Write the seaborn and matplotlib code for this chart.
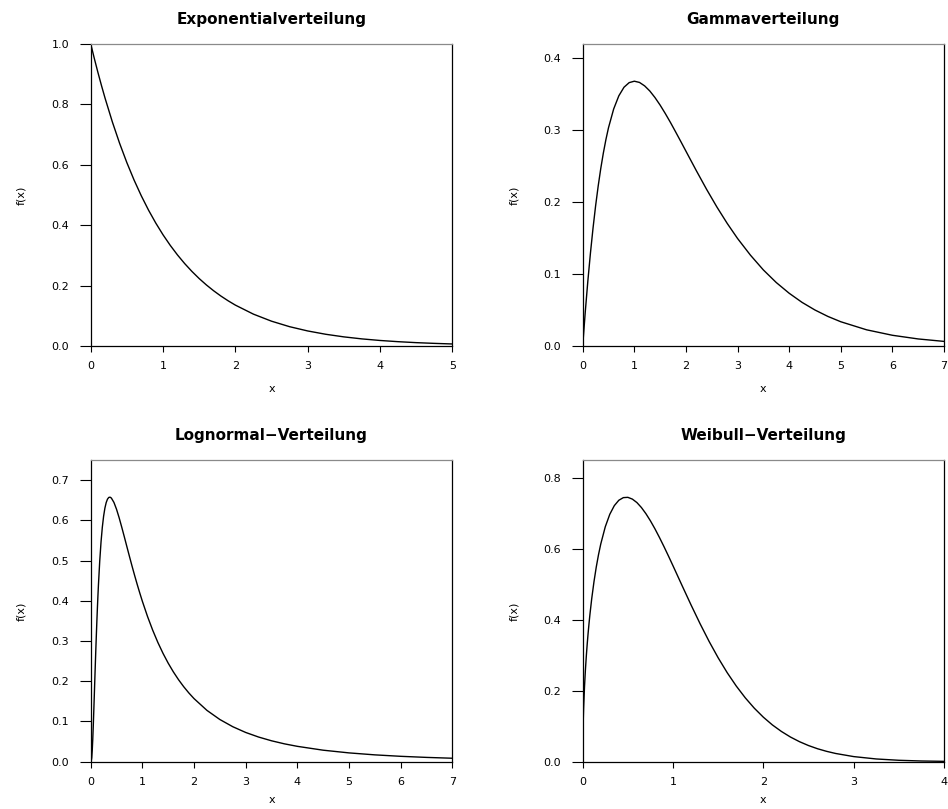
import matplotlib
matplotlib.use("Agg")
import matplotlib.pyplot as plt
import seaborn as sns
import pandas as pd

# ---- data ----
exp_x = [0, 0.05, 0.1, 0.15, 0.2, 0.3, 0.4, 0.5, 0.6, 0.7, 0.8, 0.9, 1.0, 1.1, 1.2, 1.3,
         1.4, 1.5, 1.6, 1.7, 1.8, 1.9, 2.0, 2.25, 2.5, 2.75, 3.0, 3.25, 3.5, 3.75, 4.0,
         4.25, 4.5, 4.75, 5.0]
exp_y = [1.0, 0.9512, 0.9048, 0.8607, 0.8187, 0.7408, 0.6703, 0.6065, 0.5488, 0.4966,
         0.4493, 0.4066, 0.3679, 0.3329, 0.3012, 0.2725, 0.2466, 0.2231, 0.2019, 0.1827,
         0.1653, 0.1496, 0.1353, 0.1054, 0.0821, 0.0639, 0.0498, 0.0388, 0.0302, 0.0235,
         0.0183, 0.0143, 0.0111, 0.0087, 0.0067]

gam_x = [0, 0.05, 0.1, 0.15, 0.2, 0.25, 0.3, 0.35, 0.4, 0.45, 0.5, 0.6, 0.7, 0.8, 0.9,
         1.0, 1.1, 1.2, 1.3, 1.4, 1.5, 1.6, 1.7, 1.8, 1.9, 2.0, 2.2, 2.4, 2.6, 2.8, 3.0,
         3.25, 3.5, 3.75, 4.0, 4.25, 4.5, 4.75, 5.0, 5.5, 6.0, 6.5, 7.0]
gam_y = [0.0, 0.0476, 0.0905, 0.1291, 0.1637, 0.1947, 0.2222, 0.2466, 0.2681, 0.2869,
         0.3033, 0.3293, 0.3476, 0.3595, 0.3659, 0.3679, 0.3662, 0.3614, 0.3543, 0.3452,
         0.3347, 0.3230, 0.3106, 0.2975, 0.2842, 0.2707, 0.2438, 0.2177, 0.1931, 0.1703,
         0.1494, 0.1262, 0.1057, 0.0882, 0.0733, 0.0606, 0.0500, 0.0411, 0.0337, 0.0225,
         0.0149, 0.0098, 0.0064]

logn_x = [0, 0.01, 0.02, 0.03, 0.04, 0.05, 0.06, 0.07, 0.08, 0.09, 0.1, 0.11, 0.12,
          0.13, 0.14, 0.15, 0.175, 0.2, 0.225, 0.25, 0.275, 0.3, 0.325, 0.35, 0.375,
          0.4, 0.45, 0.5, 0.55, 0.6, 0.65, 0.7, 0.75, 0.8, 0.85, 0.9, 0.95, 1.0, 1.1,
          1.2, 1.3, 1.4, 1.5, 1.6, 1.7, 1.8, 1.9, 2.0, 2.25, 2.5, 2.75, 3.0, 3.25, 3.5,
          3.75, 4.0, 4.5, 5.0, 5.5, 6.0, 6.5, 7.0]
logn_y = [0.0, 0.0010, 0.0095, 0.0285, 0.0562, 0.0898, 0.1271, 0.1660, 0.2054, 0.2441,
          0.2816, 0.3173, 0.3512, 0.3830, 0.4125, 0.4398, 0.4991, 0.5463, 0.5829, 0.6104,
          0.6305, 0.6442, 0.6527, 0.6569, 0.6576, 0.6554, 0.6445, 0.6275, 0.6067, 0.5835,
          0.5594, 0.5348, 0.5104, 0.4864, 0.4632, 0.4408, 0.4194, 0.3989, 0.3610, 0.3270,
          0.2965, 0.2693, 0.2450, 0.2233, 0.2039, 0.1865, 0.1709, 0.1569, 0.1276, 0.1049,
          0.0870, 0.0727, 0.0613, 0.0520, 0.0444, 0.0382, 0.0286, 0.0219, 0.0170, 0.0134,
          0.0107, 0.0086]

weib_x = [0, 0.001, 0.003, 0.005, 0.01, 0.02, 0.03, 0.04, 0.05, 0.06, 0.07, 0.08, 0.1,
          0.125, 0.15, 0.175, 0.2, 0.25, 0.3, 0.35, 0.4, 0.45, 0.5, 0.55, 0.6, 0.65,
          0.7, 0.75, 0.8, 0.85, 0.9, 0.95, 1.0, 1.1, 1.2, 1.3, 1.4, 1.5, 1.6, 1.7, 1.8,
          1.9, 2.0, 2.1, 2.2, 2.3, 2.4, 2.5, 2.6, 2.7, 2.8, 3.0, 3.25, 3.5, 3.75, 4.0]
weib_y = [0.0, 0.0474, 0.0821, 0.1060, 0.1499, 0.2115, 0.2585, 0.2976, 0.3317, 0.3621,
          0.3896, 0.4148, 0.4596, 0.5074, 0.5482, 0.5832, 0.6134, 0.6619, 0.6971, 0.7214,
          0.7366, 0.7440, 0.7448, 0.7398, 0.7301, 0.7161, 0.6987, 0.6785, 0.6560, 0.6316,
          0.6059, 0.5792, 0.5518, 0.4963, 0.4414, 0.3885, 0.3386, 0.2926, 0.2507, 0.2132,
          0.1799, 0.1507, 0.1254, 0.1036, 0.0852, 0.0695, 0.0564, 0.0455, 0.0365, 0.0292,
          0.0232, 0.0144, 0.0077, 0.0040, 0.0020, 0.0010]

titles = ["Exponentialverteilung", "Gammaverteilung", "Lognormal\u2212Verteilung",
          "Weibull\u2212Verteilung"]
xlims = [5, 7, 7, 4]
ylims = [1.0, 0.42, 0.75, 0.85]
yticks = [[0.0, 0.2, 0.4, 0.6, 0.8, 1.0],
          [0.0, 0.1, 0.2, 0.3, 0.4],
          [0.0, 0.1, 0.2, 0.3, 0.4, 0.5, 0.6, 0.7],
          [0.0, 0.2, 0.4, 0.6, 0.8]]
xticks = [[0, 1, 2, 3, 4, 5],
          [0, 1, 2, 3, 4, 5, 6, 7],
          [0, 1, 2, 3, 4, 5, 6, 7],
          [0, 1, 2, 3, 4]]
series = [(exp_x, exp_y), (gam_x, gam_y), (logn_x, logn_y), (weib_x, weib_y)]

sns.set_style("white")
plt.rcParams["font.family"] = ["DejaVu Sans"]
plt.rcParams["text.color"] = "black"
plt.rcParams["axes.labelcolor"] = "black"

W, H = 948, 809
fig = plt.figure(figsize=(W / 100, H / 100), dpi=100)
fig.patch.set_facecolor("white")

# panel boxes in pixel coords (left, top, right, bottom)
boxes = [(90.7, 43.7, 452.3, 346.0), (582.7, 43.7, 944.0, 346.0),
         (90.7, 460.0, 452.3, 761.7), (582.7, 460.0, 944.0, 761.7)]
xlabel_y = [-0.126, -0.126, -0.112, -0.112]

for i, (l, t, r, b) in enumerate(boxes):
    ax = fig.add_axes([l / W, 1 - b / H, (r - l) / W, (b - t) / H])
    xs, ys = series[i]
    df = pd.DataFrame({"x": xs, "f": ys})
    sns.lineplot(data=df, x="x", y="f", ax=ax, color="black", linewidth=1.0,
                 sort=False, estimator=None)
    ax.set_xlim(0, xlims[i])
    ax.set_ylim(0, ylims[i])
    ax.set_xticks(xticks[i])
    ax.set_xticklabels([str(v) for v in xticks[i]])
    ax.set_yticks(yticks[i])
    ax.set_yticklabels([f"{v:.1f}" for v in yticks[i]])
    ax.tick_params(axis="y", direction="out", length=7.7, width=0.8, pad=7.7,
                   labelsize=8, colors="black", left=True)
    ax.tick_params(axis="x", direction="out", length=4.5, width=0.8, pad=6.6,
                   labelsize=8, colors="black", bottom=True)
    for side in ["left", "right", "bottom"]:
        ax.spines[side].set_color("black")
        ax.spines[side].set_linewidth(0.9)
        ax.spines[side].set_visible(True)
    ax.spines["top"].set_color("#8a8a8a")
    ax.spines["top"].set_linewidth(0.9)
    ax.spines["top"].set_visible(True)
    ax.set_title(titles[i], fontsize=11, fontweight="bold", pad=14.5, color="black")
    ax.set_xlabel("x", fontsize=8)
    ax.set_ylabel("f(x)", fontsize=8)
    ax.xaxis.set_label_coords(0.5, xlabel_y[i])
    ax.yaxis.set_label_coords(-0.177, 0.5)
    ax.grid(False)

fig.savefig("out.png", dpi=100, facecolor="white")
